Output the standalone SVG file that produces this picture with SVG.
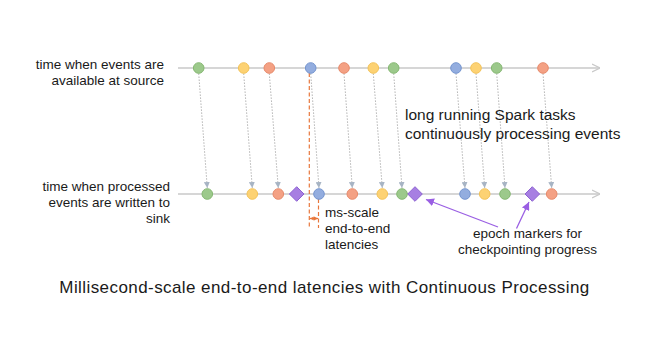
<svg xmlns="http://www.w3.org/2000/svg" width="652" height="345" viewBox="0 0 652 345">
<style>
text{font-family:"Liberation Sans",Arial,sans-serif;fill:#1a1a1a}
.lbl{font-size:13.5px}
.big{font-size:15.5px}
.title{font-size:17px}
.axis{stroke:#c9c9c9;stroke-width:1.5;fill:none}
.dot{stroke:#b4b4b4;stroke-width:1;stroke-dasharray:1.5 1.5;fill:none}
.g{fill:#9cc98b;stroke:#86b873;stroke-width:1}
.y{fill:#fdd273;stroke:#f3c35a;stroke-width:1}
.o{fill:#f4a184;stroke:#e78b6c;stroke-width:1}
.b{fill:#93addf;stroke:#7595cf;stroke-width:1}
.d{fill:#a77fe2;stroke:#8d62d2;stroke-width:1}
.lat{stroke:#e8773c;stroke-width:1.2;stroke-dasharray:4 2.5;fill:none}
.pa{stroke:#9a5fe3;stroke-width:1.3;fill:none}
</style>
<defs>
<marker id="ah" viewBox="0 0 10 10" refX="10" refY="5" markerWidth="6" markerHeight="6" markerUnits="userSpaceOnUse" orient="auto"><path d="M0,0 L10,5 L0,10 Z" fill="#a7b4c4"/></marker>
<marker id="open" viewBox="0 0 10 10" refX="10" refY="5" markerWidth="8" markerHeight="10" markerUnits="userSpaceOnUse" orient="auto"><path d="M0,0 L10,5 L0,10" fill="none" stroke="#c9c9c9" stroke-width="1.4"/></marker>
<marker id="oa" viewBox="0 0 10 10" refX="10" refY="5" markerWidth="4" markerHeight="5" markerUnits="userSpaceOnUse" orient="auto-start-reverse"><path d="M0,0 L10,5 L0,10 Z" fill="#e8773c"/></marker>
<marker id="pah" viewBox="0 0 10 10" refX="10" refY="5" markerWidth="8" markerHeight="8" markerUnits="userSpaceOnUse" orient="auto"><path d="M0,0 L10,5 L0,10 Z" fill="#9a5fe3"/></marker>
</defs>

<g id="axes">
<line class="axis" x1="178" y1="68" x2="600" y2="68" marker-end="url(#open)"/>
<line class="axis" x1="178" y1="194" x2="600" y2="194" marker-end="url(#open)"/>
</g>

<g id="connectors">
<line class="dot" x1="198.7" y1="73.5" x2="207.3" y2="188" marker-end="url(#ah)"/>
<line class="dot" x1="243.7" y1="73.5" x2="252.3" y2="188" marker-end="url(#ah)"/>
<line class="dot" x1="269.3" y1="73.5" x2="278.3" y2="188" marker-end="url(#ah)"/>
<line class="dot" x1="310.7" y1="73.5" x2="319" y2="188" marker-end="url(#ah)"/>
<line class="dot" x1="344" y1="73.5" x2="352.3" y2="188" marker-end="url(#ah)"/>
<line class="dot" x1="373.3" y1="73.5" x2="382.3" y2="188" marker-end="url(#ah)"/>
<line class="dot" x1="393.7" y1="73.5" x2="402" y2="188" marker-end="url(#ah)"/>
<line class="dot" x1="456" y1="73.5" x2="465" y2="188" marker-end="url(#ah)"/>
<line class="dot" x1="476" y1="73.5" x2="484.7" y2="188" marker-end="url(#ah)"/>
<line class="dot" x1="496.7" y1="73.5" x2="505" y2="188" marker-end="url(#ah)"/>
<line class="dot" x1="543" y1="73.5" x2="551.7" y2="188" marker-end="url(#ah)"/>
<line class="lat" x1="309.3" y1="73" x2="309.3" y2="228"/>
<line class="lat" x1="318.5" y1="199" x2="318.5" y2="228"/>
<line stroke="#e8773c" stroke-width="1.3" x1="309.8" y1="218.5" x2="318" y2="218.5" marker-start="url(#oa)" marker-end="url(#oa)"/>
<line class="pa" x1="498" y1="227" x2="426" y2="199.5" marker-end="url(#pah)"/>
<line class="pa" x1="516.5" y1="228.5" x2="529" y2="202" marker-end="url(#pah)"/>
</g>

<g id="source-events">
<circle class="g" cx="198.7" cy="68" r="5.3"/>
<circle class="y" cx="243.7" cy="68" r="5.3"/>
<circle class="o" cx="269.3" cy="68" r="5.3"/>
<circle class="b" cx="310.7" cy="68" r="5.3"/>
<circle class="o" cx="344" cy="68" r="5.3"/>
<circle class="y" cx="373.3" cy="68" r="5.3"/>
<circle class="g" cx="393.7" cy="68" r="5.3"/>
<circle class="b" cx="456" cy="68" r="5.3"/>
<circle class="y" cx="476" cy="68" r="5.3"/>
<circle class="g" cx="496.7" cy="68" r="5.3"/>
<circle class="o" cx="543" cy="68" r="5.3"/>
</g>

<g id="sink-events">
<circle class="g" cx="207.3" cy="194" r="5.3"/>
<circle class="y" cx="252.3" cy="194" r="5.3"/>
<circle class="o" cx="278.3" cy="194" r="5.3"/>
<polygon class="d" points="296.7,186.7 304,194 296.7,201.3 289.4,194"/>
<circle class="b" cx="319" cy="194" r="5.3"/>
<circle class="o" cx="352.3" cy="194" r="5.3"/>
<circle class="y" cx="382.3" cy="194" r="5.3"/>
<circle class="g" cx="402" cy="194" r="5.3"/>
<polygon class="d" points="415,186.7 422.3,194 415,201.3 407.7,194"/>
<circle class="b" cx="465" cy="194" r="5.3"/>
<circle class="y" cx="484.7" cy="194" r="5.3"/>
<circle class="g" cx="505" cy="194" r="5.3"/>
<polygon class="d" points="532.3,186.7 539.6,194 532.3,201.3 525,194"/>
<circle class="o" cx="551.7" cy="194" r="5.3"/>
</g>

<g id="label-source">
<text class="lbl" text-anchor="end" x="164" y="68.5">time when events are</text>
<text class="lbl" text-anchor="end" x="164" y="84.5">available at source</text>
</g>
<g id="label-sink">
<text class="lbl" text-anchor="end" x="170" y="190.5">time when processed</text>
<text class="lbl" text-anchor="end" x="170" y="206.5">events are written to</text>
<text class="lbl" text-anchor="end" x="170" y="222.5">sink</text>
</g>
<g id="label-tasks">
<text class="big" x="405" y="120">long running Spark tasks</text>
<text class="big" x="405" y="138.5">continuously processing events</text>
</g>
<g id="label-latency">
<text class="lbl" x="325" y="216.7">ms-scale</text>
<text class="lbl" x="325" y="232.7">end-to-end</text>
<text class="lbl" x="325" y="248.5">latencies</text>
</g>
<g id="label-epoch">
<text class="lbl" text-anchor="middle" x="527.5" y="238.3">epoch markers for</text>
<text class="lbl" text-anchor="middle" x="527.5" y="253.5">checkpointing progress</text>
</g>
<g id="title">
<text class="title" x="59.3" y="293.3" textLength="530" lengthAdjust="spacing">Millisecond-scale end-to-end latencies with Continuous Processing</text>
</g>
</svg>
